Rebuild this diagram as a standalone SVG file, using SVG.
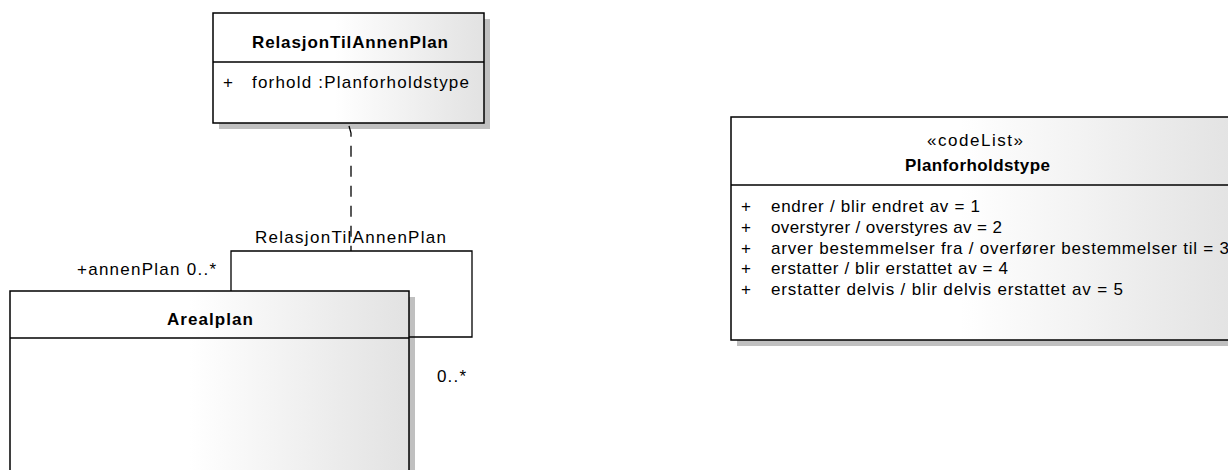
<svg xmlns="http://www.w3.org/2000/svg" width="1228" height="470" viewBox="0 0 1228 470">
<defs>
<linearGradient id="g" x1="0" y1="0" x2="1" y2="0">
<stop offset="0" stop-color="#ffffff"/>
<stop offset="0.45" stop-color="#ffffff"/>
<stop offset="1" stop-color="#e2e2e2"/>
</linearGradient>
</defs>
<style>
.box{fill:url(#g);stroke:#000;stroke-width:1.5}
.sh{fill:#c0c0c0}
.ln{stroke:#000;stroke-width:1.5;fill:none}
text{font-family:"Liberation Sans",Arial,sans-serif;font-size:17px;fill:#000}
.b{font-weight:bold}
.c{fill:none;stroke:#000;stroke-width:1.3}
.d{stroke-dasharray:11 9}
</style>
<rect width="1228" height="470" fill="#fff"/>
<g id="RelasjonTilAnnenPlan">
<rect class="sh" x="219" y="19" width="271" height="110"/>
<rect class="box" x="213" y="13" width="271" height="110"/>
<line class="ln" x1="213" y1="62" x2="484" y2="62"/>
<text class="b" x="252" y="48" textLength="196" lengthAdjust="spacing">RelasjonTilAnnenPlan</text>
<text x="223" y="88">+</text>
<text x="252" y="88" textLength="217" lengthAdjust="spacing">forhold :Planforholdstype</text>
</g>
<g id="Planforholdstype">
<rect class="sh" x="737" y="123" width="510" height="223"/>
<rect class="box" x="731" y="117" width="510" height="223"/>
<line class="ln" x1="731" y1="185" x2="1241" y2="185"/>
<text x="927" y="146" textLength="96" lengthAdjust="spacing">«codeList»</text>
<text class="b" x="905" y="171" textLength="145" lengthAdjust="spacing">Planforholdstype</text>
<text x="741" y="212">+</text>
<text x="771" y="212" textLength="209" lengthAdjust="spacing">endrer / blir endret av = 1</text>
<text x="741" y="232.75">+</text>
<text x="771" y="232.75" textLength="231" lengthAdjust="spacing">overstyrer / overstyres av = 2</text>
<text x="741" y="253.5">+</text>
<text x="771" y="253.5" textLength="458" lengthAdjust="spacing">arver bestemmelser fra / overfører bestemmelser til = 3</text>
<text x="741" y="274.25">+</text>
<text x="771" y="274.25" textLength="237" lengthAdjust="spacing">erstatter / blir erstattet av = 4</text>
<text x="741" y="295">+</text>
<text x="771" y="295" textLength="352" lengthAdjust="spacing">erstatter delvis / blir delvis erstattet av  = 5</text>
</g>
<g id="Arealplan">
<rect class="sh" x="16" y="297" width="399" height="200"/>
<rect class="box" x="10" y="291" width="399" height="200"/>
<line class="ln" x1="10" y1="338" x2="409" y2="338"/>
<text class="b" x="167" y="325" textLength="86" lengthAdjust="spacing">Arealplan</text>
</g>
<g id="connectors">
<path class="c" d="M231,291 V251 H472 V337 H409"/>
<path class="c d" d="M349,126 L351,133 V251"/>
<text x="255" y="243" textLength="191" lengthAdjust="spacing">RelasjonTilAnnenPlan</text>
<text x="77" y="275" textLength="139" lengthAdjust="spacing">+annenPlan 0..*</text>
<text x="437" y="382" textLength="29" lengthAdjust="spacing">0..*</text>
</g>
</svg>
